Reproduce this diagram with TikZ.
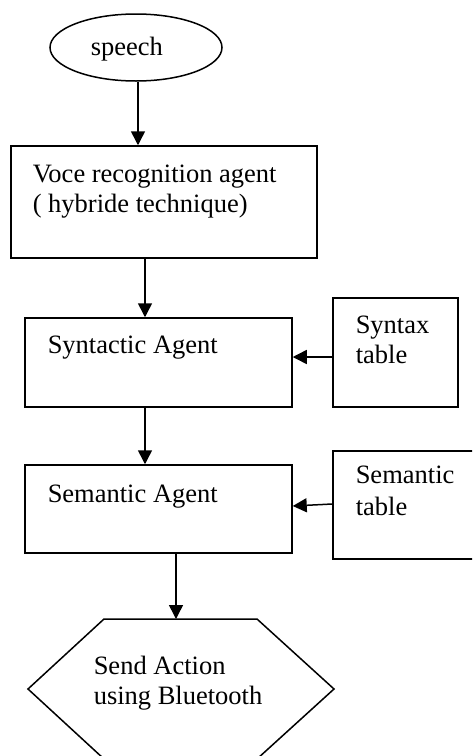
\documentclass[tikz,border=0pt]{standalone}
\usepackage{fontspec}
\setmainfont{Liberation Serif}
\usetikzlibrary{arrows.meta,shapes.geometric}
\tikzset{
  every picture/.style={line width=1.5pt},
  boxnode/.style={draw, rectangle, inner sep=0pt, line width=1.5pt},
  lbl/.style={anchor=base west, inner sep=0pt, font=\fontsize{26.5}{30}\selectfont},
  arr/.style={-{Triangle[length=14pt,width=14pt]}, line width=1.5pt}
}
\begin{document}
\begin{tikzpicture}[x=1pt,y=-1pt]
\useasboundingbox (0,0) rectangle (472,756);
\clip (0,0) rectangle (472,756);
% shapes
\node[draw, ellipse, inner sep=0pt, minimum width=172pt, minimum height=67pt] (speech) at (136,47.5) {};
\node[boxnode, minimum width=306pt, minimum height=112pt] (voice) at (164,202) {};
\node[boxnode, minimum width=267pt, minimum height=89pt] (syn) at (158.5,362.5) {};
\node[boxnode, minimum width=125pt, minimum height=109pt] (syntab) at (395.5,352.5) {};
\node[boxnode, minimum width=267pt, minimum height=88pt] (sem) at (158.5,509) {};
\node[boxnode, minimum width=160pt, minimum height=108pt] (semtab) at (413,505) {};
\draw (104,619) coordinate (hextop) -- (257,619) -- (334,689) -- (257,759) -- (104,759) -- (28,689) -- cycle;
\coordinate (hexin) at (176,619);
% texts
\node[lbl] (t0) at (90,55) {speech};
\node[lbl] (t1) at (32,182) {Voce recognition agent};
\node[lbl] (t2) at (32,212) {( hybride technique)};
\node[lbl] (t3) at (47,353) {Syntactic Agent};
\node[lbl] (t4) at (355,333) {Syntax};
\node[lbl] (t5) at (355,363) {table};
\node[lbl] (t6) at (47,502) {Semantic Agent};
\node[lbl] (t7) at (355,483) {Semantic};
\node[lbl] (t8) at (355,515) {table};
\node[lbl] (t9) at (93,674) {Send Action};
\node[lbl] (t10) at (93,704) {using Bluetooth};
% connectors
\draw[arr] (speech.south -| 138,0) -- (voice.north -| 138,0);
\draw[arr] (voice.south -| 145,0) -- (syn.north -| 145,0);
\draw[arr] (syntab.west |- 0,357) -- (syn.east |- 0,357);
\draw[arr] (syn.south -| 145,0) -- (sem.north -| 145,0);
\draw[arr] (semtab.west |- 0,504) -- (sem.east |- 0,506);
\draw[arr] (sem.south -| hexin) -- (hexin);
\end{tikzpicture}
\end{document}
